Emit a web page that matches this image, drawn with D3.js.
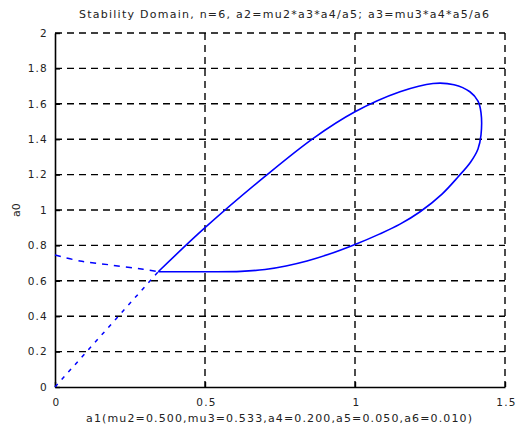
<!DOCTYPE html>
<meta charset="utf-8">
<head>
<script src="https://d3js.org/d3.v7.min.js"></script>
<style>
  body { margin: 0; background: #fff; }
  text { font-family: "DejaVu Sans", "Liberation Sans", Arial, sans-serif; fill: #222; }
</style>
</head>
<body>
<svg id="chart" width="518" height="430"></svg>
<script>
// stability boundary, solid loop (from the junction point round and back)
var loopX = [0.344, 0.50, 0.62, 0.70, 0.77, 0.84, 0.91, 1.0, 1.083, 1.15, 1.217, 1.29, 1.344, 1.385, 1.41, 1.42, 1.42, 1.41, 1.383, 1.33, 1.26, 1.15, 1.0, 0.861, 0.70, 0.50, 0.344];
var loopY = [0.651, 0.651, 0.653, 0.664, 0.684, 0.712, 0.748, 0.805, 0.865, 0.92, 0.99, 1.09, 1.188, 1.27, 1.345, 1.424, 1.55, 1.615, 1.668, 1.708, 1.715, 1.668, 1.555, 1.405, 1.19, 0.90, 0.651];
// dashed branches
var upDashX = [0, 0.083, 0.183, 0.294, 0.344];
var upDashY = [0.746, 0.712, 0.69, 0.665, 0.651];
var lowDashX = [0, 0.344];
var lowDashY = [0, 0.651];

var xTicks = [0, 0.5, 1, 1.5];
var xTickLabels = ["0", "0.5", "1", "1.5"];
var yTicks = [0, 0.2, 0.4, 0.6, 0.8, 1, 1.2, 1.4, 1.6, 1.8, 2];
var yTickLabels = ["0", "0.2", "0.4", "0.6", "0.8", "1", "1.2", "1.4", "1.6", "1.8", "2"];

var titleText = "Stability Domain, n=6,  a2=mu2*a3*a4/a5;  a3=mu3*a4*a5/a6";
var xLabel = "a1(mu2=0.500,mu3=0.533,a4=0.200,a5=0.050,a6=0.010)";
var yLabel = "a0";

var svg = d3.select("#chart");
var margin = {left: 55, right: 13, top: 33, bottom: 43};
var width = 518 - margin.left - margin.right,
    height = 430 - margin.top - margin.bottom;

var g = svg.append("g").attr("transform", "translate(" + margin.left + "," + margin.top + ")");

var x = d3.scaleLinear().domain([0, 1.5]).range([0, width]);
var y = d3.scaleLinear().domain([0, 2]).range([height, 0]);

// grid
g.selectAll(".vgrid").data(xTicks.slice(1)).enter().append("line")
  .attr("x1", d => x(d)).attr("x2", d => x(d))
  .attr("y1", 0).attr("y2", height)
  .attr("stroke", "#000").attr("stroke-width", 1.4).attr("stroke-dasharray", "7,5");
g.selectAll(".hgrid").data(yTicks.slice(1)).enter().append("line")
  .attr("x1", 0).attr("x2", width)
  .attr("y1", d => y(d)).attr("y2", d => y(d))
  .attr("stroke", "#000").attr("stroke-width", 1.4).attr("stroke-dasharray", "7,5");

// axes
var xAxis = d3.axisBottom(x).tickValues(xTicks).tickSizeInner(-5).tickSizeOuter(0)
  .tickPadding(10).tickFormat((d, i) => xTickLabels[i]);
var yAxis = d3.axisLeft(y).tickValues(yTicks).tickSizeInner(-5).tickSizeOuter(0)
  .tickPadding(7).tickFormat((d, i) => yTickLabels[i]);

var gx = g.append("g").attr("transform", "translate(0," + height + ")").call(xAxis);
var gy = g.append("g").call(yAxis);
[gx, gy].forEach(function(a) {
  a.select(".domain").attr("stroke", "#000").attr("stroke-width", 1.6);
  a.selectAll(".tick line").attr("stroke", "#000").attr("stroke-width", 1.4);
  a.selectAll(".tick text").style("font-size", "10.5px").style("letter-spacing", "1.2px")
    .style("font-family", "'DejaVu Sans', sans-serif");
});
gx.selectAll(".tick text").attr("dy", "0.85em").attr("dx", "1px");

// curves
var line = d3.line().x(d => x(d[0])).y(d => y(d[1]));
var smooth = d3.line().x(d => x(d[0])).y(d => y(d[1])).curve(d3.curveCatmullRom.alpha(0.5));

g.append("path").datum(d3.zip(lowDashX, lowDashY)).attr("d", line)
  .attr("fill", "none").attr("stroke", "#0000ff").attr("stroke-width", 1.5).attr("stroke-dasharray", "4,6");
g.append("path").datum(d3.zip(upDashX, upDashY)).attr("d", smooth)
  .attr("fill", "none").attr("stroke", "#0000ff").attr("stroke-width", 1.5).attr("stroke-dasharray", "6,6");
g.append("path").datum(d3.zip(loopX, loopY)).attr("d", smooth)
  .attr("fill", "none").attr("stroke", "#0000ff").attr("stroke-width", 1.6);

// labels
svg.append("text").attr("x", 284).attr("y", 18)
  .attr("text-anchor", "middle").style("font-size", "11px")
  .attr("textLength", 410).attr("lengthAdjust", "spacing").text(titleText);
svg.append("text").attr("x", 279).attr("y", 422)
  .attr("text-anchor", "middle").style("font-size", "11px")
  .attr("textLength", 386).attr("lengthAdjust", "spacing").text(xLabel);
svg.append("text").attr("transform", "translate(20," + (margin.top + height / 2) + ") rotate(-90)")
  .attr("text-anchor", "middle").style("font-size", "11px").text(yLabel);
</script>
</body>
